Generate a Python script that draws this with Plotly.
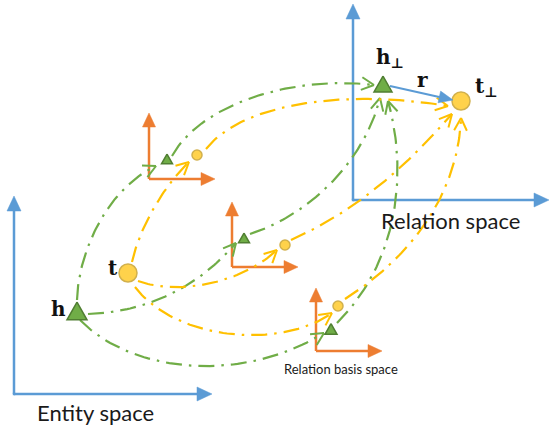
import numpy as np
import plotly.graph_objects as go

W, H = 550, 432

# ---- coordinate spaces (diagram units, y grows downward) ----
space_labels = ["Entity space", "Relation space"]
space_origin_x = [14, 353]
space_origin_y = [394, 200]
space_tip_x = [212, 549]
space_tip_y = [196, 4]
space_label_x = [95, 450]
space_label_y = [412, 220]

basis_label = "Relation basis space"
basis_origin_x = [149, 232, 316]
basis_origin_y = [179, 267, 351]
basis_tip_x = [215, 298, 382]
basis_tip_y = [113, 202, 288]
basis_label_x = 341
basis_label_y = 369

# ---- entity nodes ----
tri_names = ["h", "h_b1", "h_b2", "h_b3", "h_perp"]
tri_x = [77, 167, 244, 331, 383]
tri_y = [311, 159, 238, 329, 84]
tri_size = [20, 11, 11, 12, 18]

circ_names = ["t", "t_b1", "t_b2", "t_b3", "t_perp"]
circ_x = [128, 197, 285, 338, 461]
circ_y = [273, 155, 245, 306, 101]
circ_size = [18, 10, 10, 10, 18]

# ---- projection paths (cubic Bezier control points) ----
green_paths_x = [[77, 78, 105, 156], [172, 200, 290, 374], [88, 150, 200, 236],
                 [250, 310, 365, 380], [80, 130, 240, 324], [337, 405, 405, 388]]
green_paths_y = [[300, 255, 190, 166], [156, 105, 75, 85], [314, 312, 285, 243],
                 [234, 215, 160, 98], [320, 372, 385, 333], [323, 255, 160, 101]]
yellow_paths_x = [[132, 140, 167, 189], [206, 240, 340, 448], [138, 175, 240, 277],
                  [291, 370, 420, 452], [135, 175, 280, 332], [345, 410, 458, 461]]
yellow_paths_y = [[262, 225, 182, 162], [149, 105, 88, 106], [281, 295, 285, 250],
                  [240, 205, 150, 114], [287, 340, 350, 313], [299, 258, 195, 118]]

# ---- labels ----
node_labels = ["h", "t", "h<sub>⊥</sub>", "t<sub>⊥</sub>", "r"]
node_label_x = [58, 113, 390, 486, 422]
node_label_y = [309, 268, 58, 87, 80]
r_arrow_x = [390, 453]
r_arrow_y = [86, 100]

BLUE = "#5B9BD5"
ORANGE = "#ED7D31"
GREEN = "#70AD47"
GREEN_D = "#507E32"
YELLOW = "#FFC000"
YELLOW_D = "#BF9000"

shapes = []


def arrow(x0, y0, x1, y1, color, lw, hl, hw):
    d = np.array([x1 - x0, y1 - y0], float)
    L = np.hypot(*d)
    u = d / L
    n = np.array([-u[1], u[0]])
    base = np.array([x1, y1]) - u * hl
    shapes.append(dict(type="line", x0=x0, y0=y0, x1=base[0] + u[0], y1=base[1] + u[1],
                       line=dict(color=color, width=lw), layer="below"))
    p1 = base + n * hw / 2
    p2 = base - n * hw / 2
    path = f"M {x1},{y1} L {p1[0]},{p1[1]} L {p2[0]},{p2[1]} Z"
    shapes.append(dict(type="path", path=path, fillcolor=color, line=dict(color=color, width=0.5),
                       layer="below"))


for ox, oy, tx, ty in zip(space_origin_x, space_origin_y, space_tip_x, space_tip_y):
    arrow(ox, oy, ox, ty, BLUE, 2.5, 15, 14)
    arrow(ox, oy, tx, oy, BLUE, 2.5, 15, 14)
    shapes.append(dict(type="line", x0=ox - 1.2, y0=oy, x1=ox + 1.2, y1=oy,
                       line=dict(color=BLUE, width=2.5), layer="below"))

for ox, oy, tx, ty in zip(basis_origin_x, basis_origin_y, basis_tip_x, basis_tip_y):
    arrow(ox, oy, ox, ty, ORANGE, 2.5, 14, 13)
    arrow(ox, oy, tx, oy, ORANGE, 2.5, 14, 13)

fig = go.Figure()


def bezier(px, py, n=60):
    t = np.linspace(0, 1, n)[:, None]
    P = np.array(list(zip(px, py)), float)
    pts = ((1 - t) ** 3) * P[0] + 3 * ((1 - t) ** 2) * t * P[1] + 3 * (1 - t) * t ** 2 * P[2] + t ** 3 * P[3]
    return pts, P[3] - P[2], P[3]


def add_paths(pxs, pys, color):
    cx, cy, hx, hy = [], [], [], []
    ang = np.deg2rad(27)
    for px, py in zip(pxs, pys):
        pts, tan, tip = bezier(px, py)
        cx += list(pts[:, 0]) + [None]
        cy += list(pts[:, 1]) + [None]
        u = tan / np.hypot(*tan)
        for s in (1, -1):
            c, sn = np.cos(s * ang), np.sin(s * ang)
            r = np.array([u[0] * c - u[1] * sn, u[0] * sn + u[1] * c])
            e = tip - 14 * r
            hx += [e[0], tip[0], None]
            hy += [e[1], tip[1], None]
    fig.add_trace(go.Scatter(x=cx, y=cy, mode="lines",
                             line=dict(color=color, width=2.2, dash="16px,7px,2.5px,7px"),
                             hoverinfo="skip"))
    fig.add_trace(go.Scatter(x=hx, y=hy, mode="lines", line=dict(color=color, width=2),
                             hoverinfo="skip"))


add_paths(green_paths_x, green_paths_y, GREEN)
add_paths(yellow_paths_x, yellow_paths_y, YELLOW)

# r arrow
arrow(r_arrow_x[0], r_arrow_y[0], r_arrow_x[1], r_arrow_y[1], BLUE, 2, 14, 12)
shapes[-1]["layer"] = "above"
shapes[-2]["layer"] = "above"

# triangles
for x, y, s in zip(tri_x, tri_y, tri_size):
    h = s * 0.88
    fig.add_trace(go.Scatter(x=[x, x + s / 2, x - s / 2, x], y=[y - h / 2, y + h / 2, y + h / 2, y - h / 2],
                             mode="lines", fill="toself", fillcolor=GREEN,
                             line=dict(color=GREEN_D, width=1.5), hoverinfo="skip"))

# circles
fig.add_trace(go.Scatter(x=circ_x, y=circ_y, mode="markers",
                         marker=dict(size=circ_size, color=YELLOW, line=dict(color=YELLOW_D, width=1.5)),
                         hoverinfo="skip"))

annotations = []
for txt, x, y in zip(space_labels, space_label_x, space_label_y):
    annotations.append(dict(x=x, y=y, text=txt, showarrow=False,
                            font=dict(family="Lato", size=22, color="#1a1a1a")))
annotations.append(dict(x=basis_label_x, y=basis_label_y, text=basis_label, showarrow=False,
                        font=dict(family="Lato", size=13, color="#1a1a1a")))
for txt, x, y in zip(node_labels, node_label_x, node_label_y):
    annotations.append(dict(x=x, y=y, text=f"<b>{txt}</b>", showarrow=False,
                            font=dict(family="DejaVu Serif", size=20, color="#111111")))

fig.update_layout(
    width=W, height=H, margin=dict(l=0, r=0, t=0, b=0),
    xaxis=dict(range=[0, W], visible=False, fixedrange=True),
    yaxis=dict(range=[H, 0], visible=False, fixedrange=True),
    plot_bgcolor="white", paper_bgcolor="white", showlegend=False,
    shapes=shapes, annotations=annotations,
)

fig.write_html("out.html", config={"displayModeBar": False},
               post_script="document.body.style.margin='0px';document.body.style.overflow='hidden';")
